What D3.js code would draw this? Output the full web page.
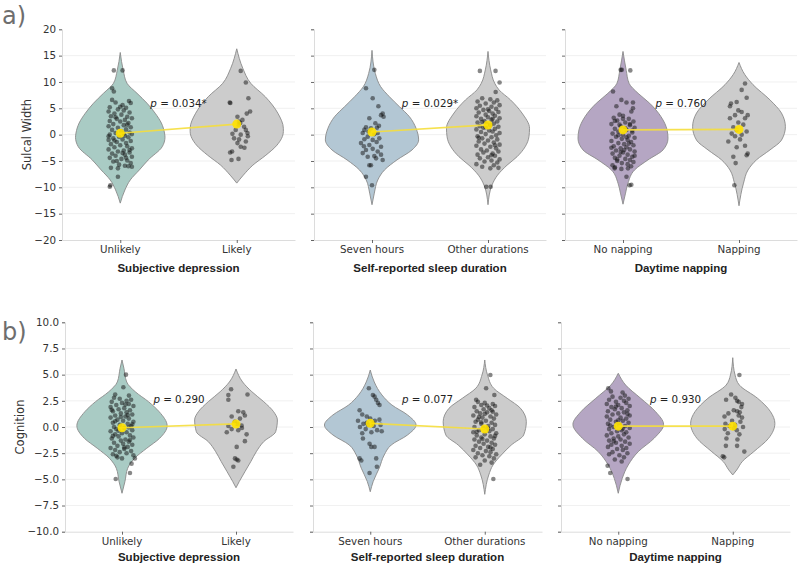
<!DOCTYPE html>
<html><head><meta charset="utf-8">
<script src="https://cdn.jsdelivr.net/npm/d3@7"></script>
<style>body{margin:0;background:#fff}svg{display:block}</style>
</head><body><svg id="c" width="800" height="568"></svg>
<script>
// ---------------- DATA ----------------
const comparisons = ["Subjective depression", "Self-reported sleep duration", "Daytime napping"];
const groupLabels = [["Unlikely", "Likely"], ["Seven hours", "Other durations"], ["No napping", "Napping"]];
const pValuesSulcal = ["0.034*", "0.029*", "0.760"];
const pValuesCognition = ["0.290", "0.077", "0.930"];
const sulcalTicks = [-20, -15, -10, -5, 0, 5, 10, 15, 20];
const cognitionTicks = [-10, -7.5, -5, -2.5, 0, 2.5, 5, 7.5, 10];
const sulcalMeans = [[0.27, 2.0], [0.5, 1.84], [0.9, 1.0]];
const cognitionMeans = [[-0.07, 0.29], [0.35, -0.19], [0.08, 0.08]];

// violin profiles: [value, half-width in category units]
const violinSulcalUnlikely = [[15.6,0],[12.2,0.026],[9.75,0.058],[7.85,0.144],[5.96,0.23],[4.06,0.30],[2.2,0.353],[0.3,0.38],[-0.5,0.384],[-2.3,0.36],[-4.8,0.24],[-6.7,0.164],[-8.6,0.086],[-10.5,0.04],[-13,0]];
const violinSulcalLikely = [[16.3,0],[12.6,0.052],[9.75,0.12],[7.2,0.245],[4.06,0.353],[1.2,0.40],[0.6,0.40],[-2.0,0.345],[-3.9,0.25],[-5.8,0.138],[-7.7,0.056],[-9.2,0]];
const violinSulcalSeven = [[16,0],[11.6,0.029],[9.1,0.075],[7.2,0.15],[5.3,0.237],[3.4,0.323],[1.2,0.38],[-1.0,0.402],[-2.9,0.345],[-4.8,0.215],[-6.7,0.108],[-8.6,0.05],[-11.1,0.02],[-13.3,0]];
const violinSulcalOther = [[15.8,0],[12.3,0.023],[9.75,0.058],[8.5,0.095],[6.6,0.194],[4.1,0.293],[1.2,0.358],[-0.4,0.353],[-4.2,0.25],[-5.8,0.164],[-7.7,0.082],[-9.6,0.034],[-13.3,0]];
const violinSulcalNoNap = [[15.8,0],[12.2,0.028],[9.75,0.052],[7.85,0.13],[5.96,0.23],[3.4,0.328],[0.9,0.38],[-0.7,0.388],[-2.9,0.345],[-4.8,0.215],[-6.7,0.1],[-9.2,0.043],[-11.1,0.022],[-13.2,0]];
const violinSulcalNap = [[13.7,0],[11.4,0.05],[9.5,0.12],[6.6,0.267],[4.1,0.366],[1.5,0.40],[-1.05,0.366],[-2.9,0.267],[-4.8,0.15],[-6.7,0.078],[-9.2,0.039],[-13.5,0]];
const violinCogUnlikely = [[6.4,0],[5.6,0.017],[4.3,0.041],[3.37,0.116],[2.42,0.232],[1.46,0.326],[0.12,0.396],[-1.08,0.33],[-2.03,0.217],[-3.0,0.109],[-3.94,0.05],[-5.2,0.026],[-6.33,0]];
const violinCogLikely = [[5.54,0],[4.3,0.058],[3.37,0.139],[2.42,0.243],[1.46,0.33],[0.67,0.363],[-0.45,0.348],[-1.4,0.243],[-2.36,0.178],[-3.3,0.13],[-4.27,0.078],[-5.2,0.029],[-5.8,0]];
const violinCogSeven = [[5.44,0],[4.3,0.035],[3.06,0.102],[2.1,0.189],[1.15,0.326],[0.19,0.4],[-0.76,0.326],[-1.72,0.183],[-2.67,0.122],[-3.94,0.078],[-5.2,0.026],[-6.18,0]];
const violinCogOther = [[6.4,0],[4.97,0.024],[3.7,0.078],[2.74,0.196],[1.78,0.313],[0.5,0.363],[-0.76,0.34],[-1.72,0.232],[-2.67,0.145],[-3.63,0.072],[-4.58,0.035],[-6.43,0]];
const violinCogNoNap = [[5.13,0],[4.0,0.065],[2.74,0.196],[1.46,0.326],[0.25,0.396],[-1.08,0.313],[-2.36,0.174],[-3.63,0.087],[-4.9,0.035],[-6.33,0]];
const violinCogNap = [[6.62,0],[4.97,0.02],[4.0,0.058],[2.74,0.217],[1.46,0.33],[0.35,0.368],[-1.08,0.313],[-2.36,0.183],[-3.3,0.083],[-4.1,0.035],[-4.58,0]];

// individual observations: [jitter in category units, value]
const pointsSulcalUnlikely = [[-0.055,12.2],[0.02,12.2],[-0.07,8.8],[-0.055,8.2],[-0.07,6.6],[0.075,6.4],[0.09,6.0],[-0.04,6.1],[0.02,5.6],[-0.09,5.2],[0.05,5.1],[-0.02,4.8],[0.03,4.6],[-0.1,4.4],[0.08,4.2],[-0.05,4.0],[0.01,3.8],[-0.08,3.5],[0.06,3.4],[0.1,3.1],[-0.03,3.0],[0.04,2.8],[-0.09,2.6],[0.0,2.5],[0.07,2.2],[-0.06,2.0],[0.03,1.8],[-0.1,1.6],[0.09,1.4],[-0.02,1.3],[0.05,1.0],[-0.07,0.9],[0.01,0.6],[0.08,0.4],[-0.04,0.3],[0.1,0.1],[-0.09,0.0],[0.04,-0.2],[-0.01,-0.4],[0.07,-0.5],[-0.06,-0.7],[0.02,-0.9],[-0.1,-1.0],[0.09,-1.2],[-0.03,-1.4],[0.05,-1.6],[-0.08,-1.8],[0.0,-2.0],[0.06,-2.2],[-0.05,-2.4],[0.1,-2.6],[-0.1,-2.8],[0.03,-3.0],[-0.02,-3.2],[0.08,-3.4],[-0.07,-3.6],[0.04,-3.8],[-0.04,-4.0],[0.1,-4.2],[-0.09,-4.4],[0.01,-4.6],[0.06,-4.9],[-0.06,-5.1],[0.09,-5.4],[-0.01,-5.7],[0.04,-5.9],[0.1,-6.1],[-0.08,-6.3],[0.07,-6.0],[-0.03,-5.0],[0.02,-3.5],[-0.05,-1.1],[0.06,1.9],[-0.04,3.3],[0.0,5.3],[-0.1,-0.3],[0.08,-2.9],[0.03,0.2],[-0.02,-6.4],[0.05,-4.4],[-0.02,-8.0],[-0.085,-9.6],[-0.09,-9.9]];
const pointsSulcalLikely = [[0.034,12.1],[0.078,9.9],[0.1,6.9],[-0.06,6.1],[-0.055,6.0],[0.086,4.0],[0.115,4.4],[0.006,3.4],[0.049,2.8],[0.02,2.5],[0.03,2.2],[0.015,1.9],[0.063,1.5],[-0.009,0.9],[0.078,0.9],[-0.037,0.15],[0.034,0.0],[0.092,0.3],[0.095,-0.3],[-0.023,-0.7],[0.02,-0.9],[0.006,-1.6],[0.078,-1.3],[0.034,-2.3],[0.066,-2.5],[-0.057,-3.4],[-0.04,-3.2],[-0.045,-4.8],[0.015,-4.6]];
const pointsSulcalSeven = [[0.02,12.3],[-0.052,8.8],[0.006,6.9],[0.055,5.4],[0.092,4.0],[0.078,3.7],[0.1,3.4],[-0.023,3.1],[0.029,2.15],[-0.052,1.4],[-0.009,1.2],[0.043,1.3],[-0.066,0.9],[-0.08,0.3],[0.049,0.3],[-0.037,-0.38],[0.063,-0.7],[-0.066,-0.87],[0.006,-1.0],[-0.095,-1.6],[-0.023,-1.97],[0.078,-2.3],[-0.052,-2.9],[0.006,-2.7],[0.049,-3.2],[-0.08,-3.5],[0.078,-3.8],[-0.037,-4.2],[0.02,-4.05],[0.035,-4.5],[0.092,-4.8],[-0.023,-5.8],[-0.009,-5.8],[-0.052,-8.0],[0.0,-9.6],[-0.03,0.6],[0.02,0.1],[0.06,1.7],[-0.07,-2.2],[0.04,-1.4]];
const pointsSulcalOther = [[-0.07,12.1],[0.065,12.1],[0.1,9.9],[0.066,8.1],[-0.05,6.9],[0.02,6.7],[0.08,6.5],[-0.09,6.3],[0.05,6.1],[-0.02,5.9],[0.1,5.6],[-0.07,5.5],[0.03,5.3],[-0.1,5.0],[0.07,4.9],[-0.04,4.7],[0.01,4.5],[0.09,4.3],[-0.08,4.2],[0.04,4.0],[-0.02,3.8],[0.06,3.6],[-0.1,3.5],[0.0,3.3],[0.1,3.1],[-0.06,3.0],[0.03,2.8],[-0.03,2.6],[0.08,2.5],[-0.09,2.3],[0.05,2.1],[-0.01,2.0],[0.02,1.8],[-0.07,1.6],[0.09,1.5],[-0.04,1.3],[0.06,1.1],[-0.1,1.0],[0.01,0.8],[0.04,0.6],[-0.06,0.5],[0.1,0.3],[-0.02,0.1],[0.07,-0.1],[-0.09,-0.3],[0.03,-0.5],[-0.05,-0.7],[0.08,-0.9],[0.0,-1.1],[-0.08,-1.3],[0.05,-1.5],[-0.03,-1.7],[0.1,-1.9],[-0.1,-2.1],[0.02,-2.3],[0.07,-2.6],[-0.06,-2.8],[-0.01,-3.0],[0.09,-3.2],[-0.04,-3.4],[0.04,-3.6],[-0.09,-3.8],[0.06,-4.0],[0.0,-4.3],[-0.07,-4.5],[0.1,-4.7],[0.03,-4.9],[-0.03,-5.1],[0.08,-5.3],[-0.1,-5.6],[0.05,-5.8],[-0.05,-6.1],[0.09,-6.3],[0.02,-6.4],[-0.02,1.4],[0.04,3.0],[-0.08,-0.6],[0.06,-2.0],[0.0,4.8],[-0.05,2.4],[0.03,-3.9],[-0.015,-9.9],[0.023,-9.9]];
const pointsSulcalNoNap = [[-0.02,12.3],[-0.01,12.3],[0.063,12.2],[-0.086,8.2],[-0.014,6.6],[0.03,6.1],[0.086,6.1],[-0.057,5.4],[0.086,5.0],[0.072,4.4],[-0.03,3.8],[0.0,3.6],[-0.08,3.2],[0.05,3.0],[-0.05,2.7],[0.09,2.5],[0.02,2.3],[-0.1,2.0],[0.06,1.8],[-0.02,1.6],[0.1,1.3],[-0.07,1.1],[0.03,0.9],[-0.04,0.6],[0.08,0.4],[-0.09,0.2],[0.0,0.0],[0.05,-0.2],[-0.06,-0.4],[0.1,-0.6],[-0.01,-0.8],[0.04,-1.0],[-0.1,-1.2],[0.07,-1.4],[-0.04,-1.6],[0.01,-1.8],[0.09,-2.0],[-0.08,-2.2],[0.03,-2.4],[-0.02,-2.6],[0.06,-2.8],[-0.06,-3.0],[0.1,-3.2],[0.0,-3.4],[-0.09,-3.6],[0.04,-3.8],[-0.03,-4.0],[0.08,-4.2],[-0.07,-4.4],[0.02,-4.6],[0.06,-4.8],[-0.05,-5.0],[0.09,-5.2],[-0.01,-5.4],[0.04,-5.6],[-0.09,-5.8],[0.07,-6.0],[-0.04,-0.1],[0.02,1.2],[-0.07,2.6],[0.05,-1.7],[-0.02,-3.3],[0.08,0.8],[-0.05,-4.7],[0.0,3.0],[0.03,-0.5],[-0.1,-2.5],[0.1,-4.0],[0.06,2.0],[-0.03,1.9],[0.01,-2.9],[-0.07,-6.2],[-0.072,-6.4],[-0.014,-6.5],[0.043,-6.4],[0.03,-8.0],[0.057,-9.6],[0.072,-9.5]];
const pointsSulcalNap = [[0.052,9.7],[0.023,8.5],[0.066,7.0],[-0.069,5.9],[-0.02,6.2],[-0.078,5.4],[-0.006,4.6],[0.023,4.3],[-0.034,3.7],[0.075,3.7],[0.052,3.1],[-0.078,3.1],[-0.006,2.3],[0.037,1.9],[-0.049,1.4],[-0.02,0.9],[0.066,0.6],[-0.063,0.2],[0.023,0.0],[-0.034,-0.3],[0.009,-0.9],[-0.092,-1.3],[0.052,-2.1],[-0.02,-2.4],[0.075,-3.6],[0.066,-3.9],[-0.049,-4.2],[-0.029,-5.4],[-0.04,-9.6]];
const pointsCogUnlikely = [[0.035,5.0],[0.012,3.8],[-0.06,3.1],[0.061,3.0],[0.113,-3.0],[0.084,-3.5],[0.07,-4.4],[-0.055,-4.97],[-0.07,2.8],[-0.02,2.7],[0.08,2.6],[0.04,2.5],[-0.09,2.4],[0.0,2.3],[0.06,2.2],[-0.05,2.1],[0.1,2.0],[-0.1,1.9],[0.02,1.8],[-0.03,1.7],[0.07,1.6],[-0.08,1.5],[0.04,1.4],[-0.01,1.3],[0.09,1.2],[-0.06,1.1],[0.03,1.0],[-0.1,0.9],[0.06,0.8],[-0.04,0.7],[0.01,0.6],[0.1,0.5],[-0.08,0.4],[0.05,0.3],[-0.02,0.2],[0.08,0.1],[-0.07,0.0],[0.02,-0.1],[-0.05,-0.2],[0.09,-0.3],[-0.1,-0.4],[0.04,-0.5],[0.0,-0.6],[-0.06,-0.7],[0.07,-0.8],[-0.03,-0.9],[0.1,-1.0],[-0.09,-1.1],[0.03,-1.2],[-0.01,-1.3],[0.06,-1.4],[-0.07,-1.5],[0.01,-1.6],[0.09,-1.7],[-0.04,-1.8],[0.05,-1.9],[-0.1,-2.0],[0.02,-2.1],[-0.06,-2.2],[0.08,-2.3],[-0.02,-2.4],[0.04,-2.5],[-0.08,-2.6],[0.1,-2.7],[-0.04,-2.9],[0.0,-3.0],[-0.06,0.55],[0.05,1.15],[-0.03,-0.35],[0.07,-1.25],[-0.09,1.65],[0.03,2.15],[-0.05,-2.75],[0.06,-0.05],[-0.01,0.95],[0.02,-1.95],[-0.08,-0.85],[0.09,0.25]];
const pointsCogLikely = [[-0.043,3.6],[0.101,3.1],[-0.067,3.05],[-0.067,2.6],[0.02,1.5],[0.064,1.4],[-0.038,1.0],[0.078,1.1],[0.035,0.8],[-0.01,0.5],[0.01,0.3],[-0.067,0.1],[0.049,0.15],[-0.038,-0.2],[0.052,-0.1],[-0.081,-0.5],[0.02,-0.3],[0.078,-1.35],[0.006,-1.9],[-0.009,-3.0],[0.02,-3.2],[0.006,-3.1],[-0.023,-3.8],[0.093,-0.7]];
const pointsCogSeven = [[-0.012,3.7],[0.023,3.05],[0.038,2.9],[0.052,2.6],[0.067,2.3],[0.081,2.1],[-0.093,1.6],[-0.07,1.2],[-0.107,0.6],[-0.03,1.0],[0.0,0.8],[0.04,0.6],[0.08,0.7],[-0.06,0.3],[-0.02,0.2],[0.03,0.1],[0.09,0.2],[-0.09,0.0],[-0.04,-0.2],[0.06,-0.3],[0.01,-0.5],[-0.07,-0.6],[0.1,-0.4],[-0.064,-1.1],[-0.006,-1.6],[0.009,-1.9],[0.038,-1.9],[-0.093,-3.0],[-0.078,-3.2],[0.052,-3.0],[0.058,-3.8],[-0.006,-4.4],[-0.03,0.4],[0.025,0.35]];
const pointsCogOther = [[0.049,4.97],[0.012,3.7],[0.084,3.05],[-0.075,2.6],[0.075,-4.97],[-0.06,2.4],[0.0,2.3],[0.07,2.2],[-0.03,2.1],[0.09,2.0],[-0.09,1.9],[0.04,1.8],[-0.01,1.7],[0.06,1.6],[-0.07,1.5],[0.02,1.4],[-0.04,1.3],[0.1,1.2],[-0.1,1.1],[0.05,1.0],[-0.02,0.9],[0.08,0.8],[-0.06,0.7],[0.01,0.6],[-0.08,0.5],[0.06,0.4],[-0.03,0.3],[0.09,0.2],[0.03,0.1],[-0.09,0.0],[-0.01,-0.1],[0.07,-0.2],[-0.05,-0.3],[0.04,-0.4],[-0.1,-0.5],[0.1,-0.6],[0.0,-0.7],[-0.07,-0.8],[0.05,-0.9],[-0.03,-1.0],[0.08,-1.1],[-0.09,-1.2],[0.02,-1.3],[-0.05,-1.4],[0.06,-1.5],[-0.01,-1.6],[0.09,-1.7],[-0.08,-1.8],[0.03,-1.9],[-0.04,-2.0],[0.07,-2.1],[-0.1,-2.2],[0.01,-2.3],[0.05,-2.4],[-0.06,-2.5],[0.1,-2.6],[-0.02,-2.7],[0.04,-2.8],[-0.08,-2.9],[0.08,-3.0],[0.0,-3.2],[0.06,-3.4],[-0.04,-3.6],[0.03,-0.15],[-0.05,0.95],[0.07,1.45],[-0.02,-1.15],[0.02,2.05],[-0.07,-0.45],[0.05,-1.95],[-0.03,0.45],[0.09,-0.85],[0.0,1.25]];
const pointsCogNoNap = [[-0.087,3.7],[-0.064,3.4],[0.038,3.3],[0.058,3.0],[-0.093,-3.7],[-0.07,-4.4],[0.081,-4.97],[-0.05,2.9],[0.02,2.8],[0.09,2.7],[-0.08,2.6],[0.05,2.5],[-0.02,2.4],[0.07,2.3],[-0.1,2.2],[0.0,2.1],[0.1,2.0],[-0.06,1.9],[0.03,1.8],[-0.03,1.7],[0.08,1.6],[-0.09,1.5],[0.05,1.4],[0.0,1.3],[-0.05,1.2],[0.1,1.1],[-0.1,1.0],[0.02,0.9],[0.07,0.8],[-0.07,0.7],[0.04,0.6],[-0.02,0.5],[0.09,0.4],[-0.09,0.3],[0.01,0.2],[0.06,0.1],[-0.04,0.0],[0.1,-0.1],[-0.08,-0.2],[0.03,-0.3],[-0.01,-0.4],[0.07,-0.5],[-0.06,-0.6],[0.05,-0.7],[-0.1,-0.8],[0.0,-0.9],[0.09,-1.0],[-0.04,-1.1],[0.02,-1.2],[-0.08,-1.3],[0.06,-1.4],[-0.02,-1.5],[0.1,-1.6],[-0.06,-1.7],[0.03,-1.8],[-0.09,-1.9],[0.07,-2.0],[-0.01,-2.1],[0.04,-2.2],[-0.05,-2.4],[0.08,-2.5],[-0.08,-2.6],[0.01,-2.7],[0.05,-2.9],[-0.03,-3.1],[0.03,-3.3],[-0.07,0.15],[0.04,-0.15],[0.08,1.25],[-0.04,-1.35],[0.0,0.65],[-0.02,1.95]];
const pointsCogNap = [[0.058,4.97],[-0.014,3.1],[-0.058,2.6],[0.023,2.8],[0.038,2.5],[0.052,2.4],[0.081,2.2],[0.075,1.9],[0.009,1.6],[0.038,1.5],[0.061,1.4],[-0.038,1.3],[-0.072,1.0],[0.052,1.1],[0.081,0.9],[-0.006,0.6],[0.067,0.5],[-0.064,0.3],[0.02,0.2],[-0.029,0.1],[0.09,0.0],[-0.07,-0.2],[0.035,-0.3],[-0.043,-0.6],[0.058,-0.7],[-0.055,-1.1],[0.041,-1.2],[-0.06,-1.8],[0.038,-1.8],[-0.087,-2.8],[-0.075,-2.9],[0.101,-2.35],[0.01,-0.1]];

// ---------------- DRAWING ----------------
const svg = d3.select("#c");
const groupFill = [["#a9cbc4", "#cccccc"], ["#b3c7d4", "#cccccc"], ["#b5a6c3", "#cccccc"]];

const rows = [
  { letter: "a)", letterY: 24, yLabel: "Sulcal Width", yLabelX: 31, domain: [-20, 20], range: [240, 29.3],
    ticks: sulcalTicks, fmt: d3.format("d"), panels: [[62, 295], [314, 546], [565, 797]],
    violins: [[violinSulcalUnlikely, violinSulcalLikely], [violinSulcalSeven, violinSulcalOther], [violinSulcalNoNap, violinSulcalNap]],
    points: [[pointsSulcalUnlikely, pointsSulcalLikely], [pointsSulcalSeven, pointsSulcalOther], [pointsSulcalNoNap, pointsSulcalNap]],
    means: sulcalMeans, pvals: pValuesSulcal, pY: 107, tickY: 253, titleY: 272 },
  { letter: "b)", letterY: 340, yLabel: "Cognition", yLabelX: 24, domain: [-10, 10], range: [531.7, 322.3],
    ticks: cognitionTicks, fmt: d3.format(".1f"), panels: [[65, 293], [313, 542], [561, 790]],
    violins: [[violinCogUnlikely, violinCogLikely], [violinCogSeven, violinCogOther], [violinCogNoNap, violinCogNap]],
    points: [[pointsCogUnlikely, pointsCogLikely], [pointsCogSeven, pointsCogOther], [pointsCogNoNap, pointsCogNap]],
    means: cognitionMeans, pvals: pValuesCognition, pY: 403, tickY: 545, titleY: 561 }
];

const FONT = "DejaVu Sans, sans-serif";

rows.forEach(row => {
  const y = d3.scaleLinear().domain(row.domain).range(row.range);
  svg.append("text").attr("x", 2).attr("y", row.letterY).text(row.letter)
    .attr("font-family", FONT).attr("font-size", 24).attr("fill", "#6e6e6e");
  const mid = (row.range[0] + row.range[1]) / 2;
  svg.append("text").attr("transform", `translate(${row.yLabelX},${mid}) rotate(-90)`)
    .attr("text-anchor", "middle").text(row.yLabel)
    .attr("font-family", FONT).attr("font-size", 11.5).attr("fill", "#333");

  row.panels.forEach((ext, pi) => {
    const x = d3.scalePoint().domain(groupLabels[pi]).range(ext).padding(0.5);
    const step = x.step();
    const g = svg.append("g");

    // grid
    g.selectAll("line.grid").data(row.ticks.slice(1, -1)).join("line")
      .attr("x1", ext[0]).attr("x2", ext[1]).attr("y1", d => y(d)).attr("y2", d => y(d))
      .attr("stroke", "#ececec").attr("stroke-width", 0.8);

    // y axis
    const ya = d3.axisLeft(y).tickValues(row.ticks).tickSize(3).tickPadding(3)
      .tickFormat(pi === 0 ? row.fmt : () => "");
    const yg = g.append("g").attr("transform", `translate(${ext[0]},0)`).call(ya);
    yg.select(".domain").attr("stroke", "#dcdcdc");
    yg.selectAll(".tick line").attr("stroke", "#444").attr("stroke-width", 0.8);
    yg.selectAll(".tick text").attr("font-family", FONT).attr("font-size", 10.3).attr("fill", "#333");

    // x axis
    const xa = d3.axisBottom(x).tickSize(3).tickPadding(3).tickSizeOuter(0);
    const xg = g.append("g").attr("transform", `translate(0,${row.range[0]})`).call(xa);
    xg.select(".domain").attr("stroke", "#dcdcdc");
    xg.selectAll(".tick line").attr("stroke", "#444").attr("stroke-width", 0.8);
    xg.selectAll(".tick text").remove();
    groupLabels[pi].forEach(lbl => {
      g.append("text").attr("x", x(lbl)).attr("y", row.tickY).attr("text-anchor", "middle")
        .text(lbl).attr("font-family", FONT).attr("font-size", 10.3).attr("fill", "#333");
    });
    g.append("text").attr("x", (ext[0] + ext[1]) / 2).attr("y", row.titleY).attr("text-anchor", "middle")
      .text(comparisons[pi]).attr("font-family", "Liberation Sans, Arial, sans-serif")
      .attr("font-weight", "bold").attr("font-size", 11.5).attr("fill", "#222");

    // violins
    groupLabels[pi].forEach((lbl, gi) => {
      const cx = x(lbl);
      const area = d3.area()
        .y(d => y(d[0]))
        .x0(d => cx - d[1] * step)
        .x1(d => cx + d[1] * step)
        .curve(d3.curveMonotoneY);
      g.append("path").datum(row.violins[pi][gi]).attr("d", area)
        .attr("fill", groupFill[pi][gi]).attr("stroke", "#8a8a8a").attr("stroke-width", 0.9);
    });
    // points
    groupLabels[pi].forEach((lbl, gi) => {
      const cx = x(lbl);
      g.selectAll(null).data(row.points[pi][gi]).join("circle")
        .attr("cx", d => cx + d[0] * step).attr("cy", d => y(d[1])).attr("r", 2.3)
        .attr("fill", "#111").attr("fill-opacity", 0.5);
    });
    // mean line and markers
    const m = row.means[pi];
    g.append("line").attr("x1", x(groupLabels[pi][0])).attr("x2", x(groupLabels[pi][1]))
      .attr("y1", y(m[0])).attr("y2", y(m[1])).attr("stroke", "#f5de3c").attr("stroke-width", 1.7)
      .attr("stroke-opacity", 0.9);
    groupLabels[pi].forEach((lbl, gi) => {
      g.append("circle").attr("cx", x(lbl)).attr("cy", y(m[gi])).attr("r", 4.5)
        .attr("fill", "#ffe100").attr("fill-opacity", 0.9);
    });
    // p-value
    const t = g.append("text").attr("x", (x(groupLabels[pi][0]) + x(groupLabels[pi][1])) / 2)
      .attr("y", row.pY).attr("text-anchor", "middle")
      .attr("font-family", FONT).attr("font-size", 10.3).attr("fill", "#222");
    t.append("tspan").attr("font-style", "italic").text("p");
    t.append("tspan").text(" = " + row.pvals[pi]);
  });
});
</script></body></html>
